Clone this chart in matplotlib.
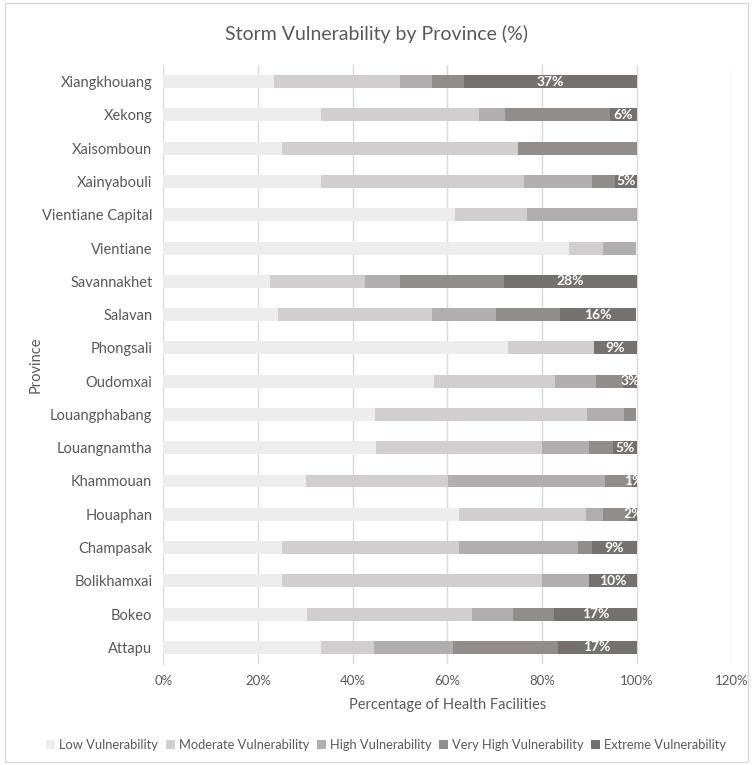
import numpy as np
import matplotlib.pyplot as plt

plt.rcParams['font.family'] = ['Lato', 'DejaVu Sans']

# provinces, bottom to top
provinces = ['Attapu', 'Bokeo', 'Bolikhamxai', 'Champasak', 'Houaphan',
             'Khammouan', 'Louangnamtha', 'Louangphabang', 'Oudomxai',
             'Phongsali', 'Salavan', 'Savannakhet', 'Vientiane',
             'Vientiane Capital', 'Xainyabouli', 'Xaisomboun', 'Xekong',
             'Xiangkhouang']

# share of health facilities per vulnerability class (%)
low = [33.3, 30.4, 25.0, 25.0, 62.5, 30.1, 45.0, 44.7, 57.1,
       72.7, 24.3, 22.5, 85.7, 61.5, 33.3, 25.0, 33.3, 23.3]
moderate = [11.1, 34.8, 55.0, 37.5, 26.8, 30.1, 35.0, 44.7, 25.7,
            18.2, 32.4, 20.0, 7.1, 15.4, 42.9, 50.0, 33.3, 26.7]
high = [16.7, 8.7, 10.0, 25.0, 3.6, 33.0, 10.0, 7.9, 8.6,
        0.0, 13.5, 7.5, 7.1, 23.1, 14.3, 0.0, 5.6, 6.7]
very_high = [22.2, 8.7, 0.0, 3.1, 5.4, 5.7, 5.0, 2.6, 5.7,
             0.0, 13.5, 21.9, 0.0, 0.0, 4.8, 25.0, 22.2, 6.7]
extreme = [16.7, 17.4, 10.0, 9.4, 1.8, 1.1, 5.0, 0.0, 2.9,
           9.1, 16.2, 28.1, 0.0, 0.0, 4.8, 0.0, 5.6, 36.7]

series = ['Low Vulnerability', 'Moderate Vulnerability', 'High Vulnerability',
          'Very High Vulnerability', 'Extreme Vulnerability']
colors = ['#ededed', '#d0cecf', '#b0aeae', '#918d8c', '#757170']

fig = plt.figure(figsize=(7.53, 7.65), dpi=100)
ax = fig.add_axes([0.2171, 0.132, 0.7543, 0.783])

# light chart-area frame
fig.patches.append(plt.Rectangle((0.006, 0.004), 0.988, 0.992, transform=fig.transFigure,
                                 fill=False, edgecolor='#d9d9d9', linewidth=1))

y = np.arange(len(provinces))
left = np.zeros(len(provinces))
for vals, name, col in zip([low, moderate, high, very_high, extreme], series, colors):
    vals = np.array(vals)
    ax.barh(y, vals, left=left, height=0.39, color=col, label=name, zorder=3)
    left = left + vals

# value labels on the extreme segment
ext = np.array(extreme)
start = left - ext
for yi, s, e in zip(y, start, ext):
    if e > 0:
        ax.text(s + e / 2, yi, f'{e:.0f}%', ha='center', va='center',
                color='white', fontsize=10, fontweight='bold', zorder=4)

ax.set_xlim(0, 120)
ax.set_ylim(-0.5, len(provinces) - 0.5)
ax.set_yticks(y)
ax.set_yticklabels(provinces, fontsize=10.5, color='#595959')
ax.set_xticks(np.arange(0, 121, 20))
ax.set_xticklabels([f'{v}%' for v in range(0, 121, 20)], fontsize=9.5, color='#595959')
ax.tick_params(length=0, pad=8)
ax.grid(axis='x', color='#d9d9d9', linewidth=1, zorder=0)
for sp in ['top', 'right', 'bottom']:
    ax.spines[sp].set_visible(False)
ax.spines['left'].set_color('#d9d9d9')

ax.set_xlabel('Percentage of Health Facilities', fontsize=10.5, color='#595959', labelpad=8)
ax.set_ylabel('Province', fontsize=10.5, color='#595959')
ax.yaxis.set_label_coords(-0.212, 0.5)
fig.text(0.5, 0.955, 'Storm Vulnerability by Province (%)', ha='center', va='center',
         fontsize=14, color='#595959')

fig.legend(loc='center', bbox_to_anchor=(0.513, 0.026), ncol=5, frameon=False,
           fontsize=9.3, handlelength=0.7, handleheight=0.7, handletextpad=0.3,
           columnspacing=0.6, labelcolor='#595959')

fig.savefig('out.png', dpi=100)
